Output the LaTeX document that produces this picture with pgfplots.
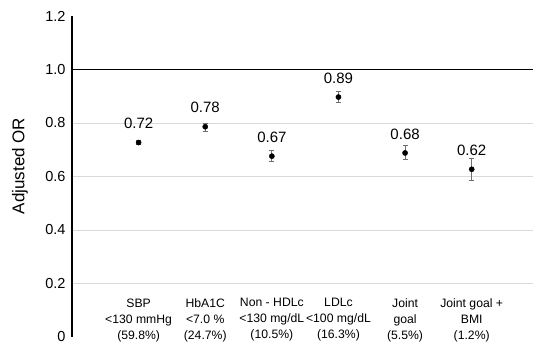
\documentclass[border=0pt]{standalone}
\usepackage{pgfplots}
\pgfplotsset{compat=1.18}
\usepackage{pgfplotstable}
\usepackage{fontspec}
\setmainfont{Liberation Sans}
\definecolor{gridc}{HTML}{D9D9D9}
\definecolor{errc}{HTML}{6F6F6F}
\pgfplotstableread{
x  y      ep     em     lab
0  0.727  0.006  0.006  0.72
1  0.786  0.012  0.018  0.78
2  0.676  0.022  0.019  0.67
3  0.897  0.021  0.020  0.89
4  0.688  0.027  0.023  0.68
5  0.627  0.040  0.041  0.62
}\ordata
\begin{document}
\begin{tikzpicture}
\begin{axis}[
  scale only axis,
  width=461pt, height=321pt,
  xmin=-1, xmax=5.92, ymin=0, ymax=1.2,
  axis lines=left,
  axis line style={-},
  x axis line style={draw=none},
  y axis line style={black, line width=1.3pt},
  major tick length=0pt,
  xtick={0,1,2,3,4,5},
  xticklabels={{SBP\\<130 mmHg\\(59.8\%)},{HbA1C\\<7.0 \%\\(24.7\%)},{Non - HDLc\\<130 mg/dL\\(10.5\%)},{LDLc\\<100 mg/dL\\(16.3\%)},{Joint\\goal\\(5.5\%)},{Joint goal +\\BMI\\(1.2\%)}},
  xticklabel style={align=center, font=\fontsize{12.2}{16}\selectfont, anchor=north, yshift=42pt},
  ytick={0.2,0.4,0.6,0.8},
  yticklabels={0.2,0.4,0.6,0.8},
  ymajorgrids,
  grid style={gridc, line width=0.8pt},
  extra y ticks={0,1.0,1.2},
  extra y tick labels={0,1.0,1.2},
  extra y tick style={grid=none},
  yticklabel style={font=\fontsize{14.5}{17}\selectfont, xshift=-3pt},
  ylabel={Adjusted OR},
  ylabel style={font=\fontsize{17}{20}\selectfont, at={(axis description cs:-0.113,0.533)}, anchor=center},
  clip=false,
]
\addplot[black, line width=1.3pt, forget plot] coordinates {(-1,1) (5.92,1)};
\addplot[
  only marks, mark=*, mark size=2.6pt, black,
  error bars/.cd, y dir=both, y explicit,
  error bar style={errc, line width=0.9pt},
  error mark options={errc, rotate=90, mark size=2.5pt, line width=0.9pt},
] table[x=x, y=y, y error plus=ep, y error minus=em] {\ordata};
\addplot[
  only marks, mark=none,
  nodes near coords, point meta=explicit symbolic,
  every node near coord/.append style={anchor=center, yshift=19pt, font=\fontsize{15}{18}\selectfont, black},
] table[x=x, y=y, meta=lab] {\ordata};
\end{axis}
\pgfresetboundingbox
\path (current axis.south west) ++(-72pt,-8pt) rectangle ++(533pt,345pt);
\end{tikzpicture}
\end{document}
